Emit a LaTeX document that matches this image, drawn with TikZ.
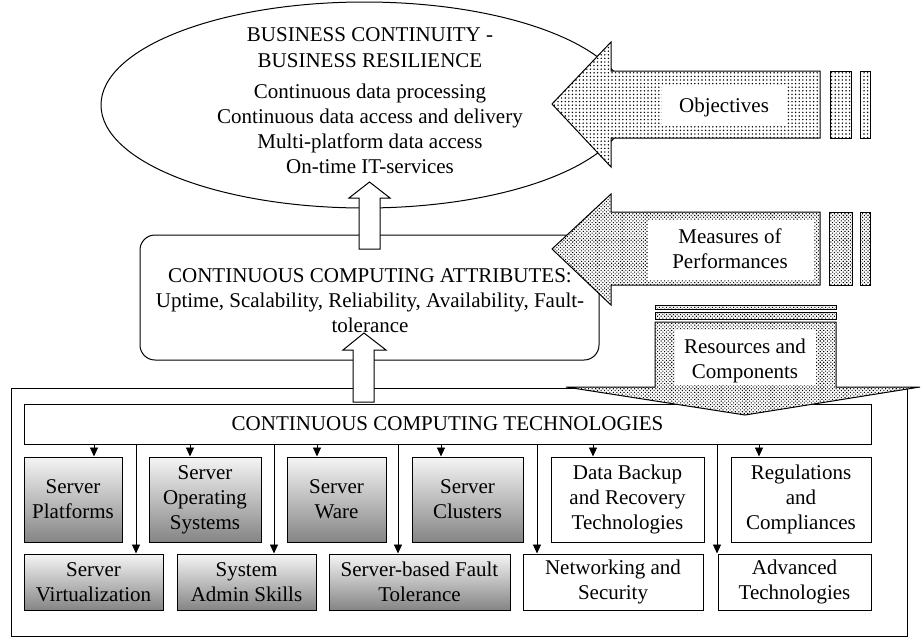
\documentclass[tikz,border=0pt]{standalone}
\usepackage{fontspec}
\setmainfont{Liberation Serif}
\usetikzlibrary{shapes.geometric,patterns.meta,arrows.meta}
\begin{document}
\begin{tikzpicture}[x=1pt,y=-1pt,
  lw/.style={line width=1pt},
  txt/.style={font=\fontsize{21}{25}\selectfont, align=center, inner sep=0pt},
  plainbox/.style={draw, line width=1pt, fill=white, inner sep=0pt, align=center, font=\fontsize{21}{25}\selectfont},
  graybox/.style={draw, line width=1pt, top color=black!4, bottom color=black!48, inner sep=0pt, align=center, font=\fontsize{21}{25}\selectfont},
  sparsedots/.style={preaction={fill=white}, pattern={Dots[distance=3.6pt,radius=0.8pt]}},
  densedots/.style={preaction={fill=white}, pattern={Dots[distance=2.5pt,radius=0.75pt,angle=45]}},
  tip/.style={-{Triangle[length=9pt,width=8pt]}, line width=0.9pt},
  block/.style={draw, line width=1pt, fill=white, line join=miter}
]
\useasboundingbox (0,0) rectangle (922,638);

% top goal ellipse
\node[draw, ellipse, line width=1pt, minimum width=527pt, minimum height=206pt, inner sep=0pt] (goal) at (364.5,105) {};
\node[txt] (goaltitle) at (370,47.8) {BUSINESS CONTINUITY -\\[1.5pt]BUSINESS RESILIENCE};
\node[txt] (goallist) at (370,129) {Continuous data processing\\Continuous data access and delivery\\Multi-platform data access\\On-time IT-services};

% attributes
\node[draw, line width=1pt, rounded corners=15pt, minimum width=459pt, minimum height=125pt, inner sep=0pt] (attr) at (369.5,297.5) {};

% up arrow attr -> goal
\draw[block] (359,249) -- (359,198) -- (349,198) -- (369.5,182) -- (390,198) -- (380,198) -- (380,249) -- cycle;

% outer frame
\node[draw, lw, minimum width=896pt, minimum height=248pt, inner sep=0pt] (outer) at (459,512) {};

% technologies
\node[plainbox, minimum width=847pt, minimum height=40pt] (tech) at (447.5,424) {CONTINUOUS COMPUTING TECHNOLOGIES};

% up arrow tech -> attr
\draw[block] (353,402) -- (353,350) -- (343,350) -- (364,333) -- (386,350) -- (374,350) -- (374,402) -- cycle;

\node[txt] (attrtext) at (370,300.5) {CONTINUOUS COMPUTING ATTRIBUTES:\\Uptime, Scalability, Reliability, Availability, Fault-\\tolerance};

% row 1
\node[graybox, minimum width=98pt, minimum height=85pt] (sp) at (73,499.5) {Server\\Platforms};
\node[graybox, minimum width=112pt, minimum height=85pt] (sos) at (205,499.5) {Server\\Operating\\Systems};
\node[graybox, minimum width=99pt, minimum height=85pt] (sw) at (336.5,499.5) {Server\\Ware};
\node[graybox, minimum width=111pt, minimum height=85pt] (sc) at (467.5,499.5) {Server\\Clusters};
\node[plainbox, minimum width=153pt, minimum height=85pt] (db) at (627.5,499.5) {Data Backup\\and Recovery\\Technologies};
\node[plainbox, minimum width=140pt, minimum height=85pt] (rc) at (801,499.5) {Regulations\\and\\Compliances};

% row 2
\node[graybox, minimum width=139pt, minimum height=56pt] (sv) at (93.5,582) {Server\\Virtualization};
\node[graybox, minimum width=139pt, minimum height=56pt] (sa) at (246.5,582) {System\\Admin Skills};
\node[graybox, minimum width=181pt, minimum height=56pt] (sf) at (419.5,582) {Server-based Fault\\Tolerance};
\node[plainbox, minimum width=180pt, minimum height=56pt] (ns) at (613,582) {Networking and\\Security};
\node[plainbox, minimum width=153pt, minimum height=56pt] (at) at (794.5,582) {Advanced\\Technologies};

% connectors
\foreach \x/\b in {94/sp,190/sos,317/sw,441/sc,593/db,759/rc}
  \draw[tip] (\x,0 |- tech.south) -- (\x,0 |- \b.north);
\foreach \x/\b in {136/sv,274/sa,398/sf,537/ns,717/at}
  \draw[tip] (\x,0 |- tech.south) -- (\x,0 |- \b.north);

% objectives arrow
\draw[lw, sparsedots, line join=miter] (552,104) -- (611,42) -- (611,71) -- (820,71) -- (820,138) -- (611,138) -- (611,167) -- cycle;
\fill[white] (662,85) rectangle (787,126);
\node[txt] (obj) at (724,107) {Objectives};
\draw[lw, sparsedots] (830,71) rectangle (851,138);
\draw[lw, sparsedots] (860,71) rectangle (870,138);

% measures arrow
\draw[lw, densedots, line join=miter] (552,249) -- (611,194) -- (611,212) -- (820,212) -- (820,285) -- (611,285) -- (611,305) -- cycle;
\fill[white] (648,220) rectangle (814,280);
\node[txt] (mop) at (730,249) {Measures of\\Performances};
\draw[lw, densedots] (829,212) rectangle (852,285);
\draw[lw, densedots] (860,212) rectangle (870,285);

% resources arrow
\draw[lw, densedots] (655,305) rectangle (836,309);
\draw[lw, densedots] (655,312) rectangle (836,319);
\draw[lw, densedots, line join=miter] (655,322) -- (836,322) -- (836,387) -- (920,387) -- (745,415) -- (566,387) -- (655,387) -- cycle;
\fill[white] (675,330) rectangle (816,385);
\node[txt] (rac) at (745,361) {Resources and\\Components};
\end{tikzpicture}
\end{document}
